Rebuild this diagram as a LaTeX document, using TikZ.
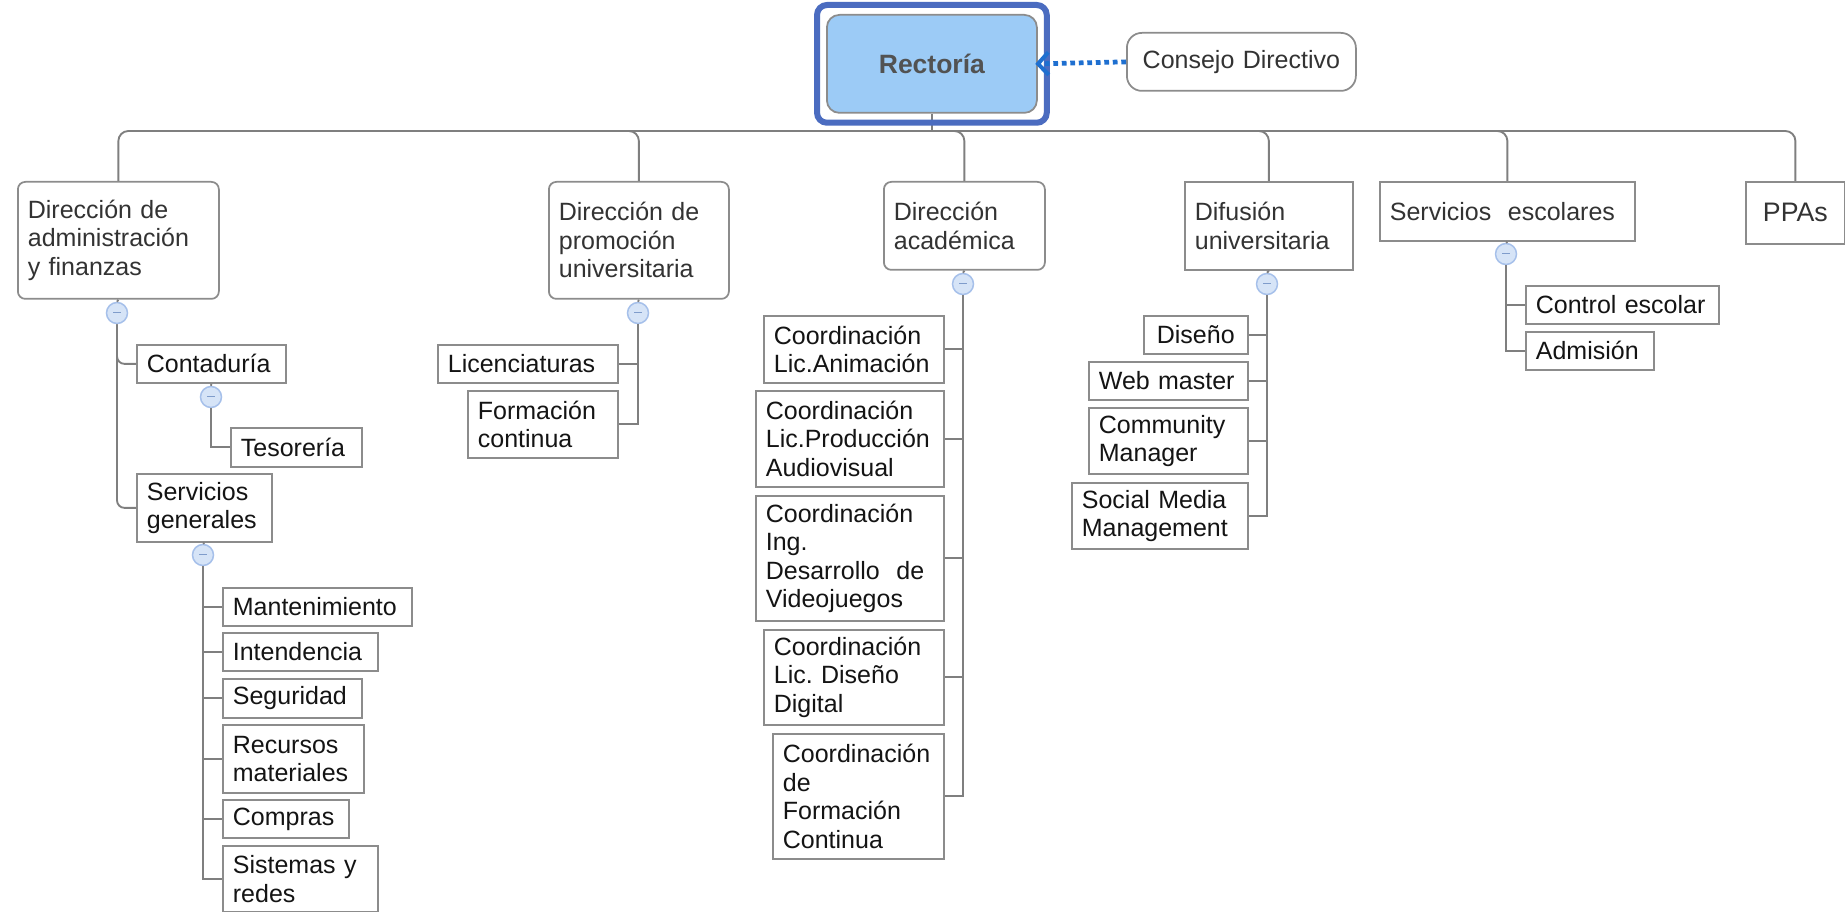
\documentclass[tikz,border=0pt]{standalone}
\usepackage{fontspec}
\setmainfont{Liberation Sans}
\usetikzlibrary{calc,arrows.meta}

\definecolor{boxgray}{HTML}{8C8C8C}
\definecolor{linegray}{HTML}{7F7F7F}
\definecolor{rectfill}{HTML}{9CCBF6}
\definecolor{frameblue}{HTML}{4B6CC0}
\definecolor{togfill}{HTML}{D6E4F7}
\definecolor{togline}{HTML}{A6C0EA}
\definecolor{togminus}{HTML}{7F9CCB}
\definecolor{headtext}{HTML}{333333}
\definecolor{bodytext}{HTML}{141414}
\definecolor{arrowblue}{HTML}{1E6FD0}

\newcommand\txtfont{\fontsize{10pt}{11.4pt}\selectfont\frenchspacing\hyphenpenalty=10000\exhyphenpenalty=10000}

\begin{document}
\begin{tikzpicture}[x=0.4pt,y=-0.4pt,
  bx/.style n args={2}{draw=boxgray, line width=0.7pt, fill=white,
    minimum width={#1*0.4pt}, minimum height={#2*0.4pt},
    text width={(#1-20)*0.4pt}, inner xsep=4pt, inner ysep=0pt,
    align=left, anchor=north west, font=\txtfont, text=bodytext},
  head/.style={text=headtext},
  soft/.style={rounded corners=3pt},
  conn/.style={draw=linegray, line width=0.75pt},
  tog/.style={circle, draw=togline, fill=togfill, line width=0.6pt,
    minimum size=8.4pt, inner sep=0pt},
  arr/.style={draw=arrowblue, line width=1.9pt, dash pattern=on 1.9pt off 1.5pt,
    -{Straight Barb[length=4.2pt,width=9pt,line width=1.6pt]}}
]
\useasboundingbox (0,0) rectangle (1845,912);

% ---- top level ----
\node[bx={210}{98}, fill=rectfill, rounded corners=5pt, align=center,
      font=\fontsize{10.6pt}{12pt}\selectfont\bfseries, text=headtext!85!white] (rect) at (826,14) {Rectoría};
\node[bx={229}{58}, rounded corners=6pt, align=center, head] (cons) at (1126,32) {Consejo Directivo};

\coordinate (bus) at (931,131);

% ---- directorates ----
\node[bx={201}{117}, soft, head] (adm) at (17,181) {Dirección de\\administración\\y finanzas};
\node[bx={180}{117}, soft, head] (pro) at (548,181) {Dirección de\\promoción\\universitaria};
\node[bx={161}{88}, soft, head] (aca) at (883,181) {Dirección\\académica};
\node[bx={168}{88}, head] (dif) at (1184,181) {Difusión\\universitaria};
\node[bx={255}{59}, head] (se) at (1379,181) {Servicios\ \ escolares};
\node[bx={99}{62}, align=center, head, font=\fontsize{10.7pt}{12pt}\selectfont] (ppa) at (1745,181) {PPAs};

% ---- administración y finanzas ----
\node[bx={149}{38}] (cont) at (136,344) {Contaduría};
\node[bx={131}{39}] (teso) at (230,427) {Tesorería};
\node[bx={135}{68}] (sg) at (136,473) {Servicios\\generales};
\node[bx={189}{38}] (mant) at (222,587) {Mantenimiento};
\node[bx={155}{38}] (inte) at (222,632) {Intendencia};
\node[bx={139}{39}] (segu) at (222,678) {Seguridad};
\node[bx={141}{68}] (recu) at (222,724) {Recursos\\materiales};
\node[bx={126}{38}] (comp) at (222,799) {Compras};
\node[bx={155}{66}] (sist) at (222,845) {Sistemas y\\redes};

% ---- promoción universitaria ----
\node[bx={180}{38}] (lic) at (437,344) {Licenciaturas};
\node[bx={150}{67}] (form) at (467,390) {Formación\\continua};

% ---- académica ----
\node[bx={180}{67}] (anim) at (763,315) {Coordinación\\Lic.Animación};
\node[bx={188}{96}] (prod) at (755,390) {Coordinación\\Lic.Producción\\Audiovisual};
\node[bx={188}{125}] (ing) at (755,495) {Coordinación\\Ing.\\Desarrollo\ \ de\\Videojuegos};
\node[bx={180}{95}] (dis) at (763,629) {Coordinación\\Lic. Diseño\\Digital};
\node[bx={171}{125}] (fc) at (772,733) {Coordinación\\de\\Formación\\Continua};

% ---- difusión ----
\node[bx={104}{38}] (dise) at (1143,315) {\hspace*{1.2pt}Diseño};
\node[bx={159}{38}] (web) at (1088,361) {Web master};
\node[bx={159}{66}] (comm) at (1088,407) {Community\\Manager};
\node[bx={176}{66}] (smm) at (1071,482) {Social Media\\Management};

% ---- servicios escolares ----
\node[bx={193}{38}] (ctrl) at (1525,285) {Control escolar};
\node[bx={128}{38}] (admi) at (1525,331) {Admisión};

% ---- collapse toggles ----
\foreach \n/\x/\y in {t1/117/313, t2/211/397, t3/203/555, tp/638/313,
                      ta/963/284, td/1267/284, ts/1506/254}
  \node[tog] (\n) at (\x,\y) {\textcolor{togminus}{\rule[0.15pt]{3.2pt}{0.45pt}}};

% ---- bus under Rectoría ----
\draw[conn] (rect.south) -- (rect.south |- bus);
\draw[conn, rounded corners=4pt] (adm.north) |- (bus) -| (ppa.north);
\foreach \n in {pro,aca,dif,se}
  \draw[conn, rounded corners=4pt] ($(bus -| \n.north)+(-14,0)$) -- (bus -| \n.north) -- (\n.north);

% frame around Rectoría
\draw[frameblue, line width=2.4pt, rounded corners=4pt]
  ([shift={(-9,-9)}]rect.north west) rectangle ([shift={(9,9)}]rect.south east);

% advisory link
\draw[arr] (cons.west) -- ([xshift=-1pt]rect.east);

% ---- parent to toggle stubs ----
\foreach \p/\t in {adm/t1, cont/t2, sg/t3, pro/tp, aca/ta, dif/td, se/ts}
  \draw[conn] (\p.south) -- (\t.north);

% ---- branches ----
\draw[conn, rounded corners=3pt] (t1.south) |- (cont.west);
\draw[conn, rounded corners=3pt] (t1.south) |- (sg.west);
\draw[conn] (t2.south) |- (teso.west);
\foreach \c in {mant,inte,segu,recu,comp,sist}
  \draw[conn] (t3.south) |- (\c.west);
\foreach \c in {lic,form}
  \draw[conn] (tp.south) |- (\c.east);
\foreach \c in {anim,prod,ing,dis,fc}
  \draw[conn] (ta.south) |- (\c.east);
\foreach \c in {dise,web,comm,smm}
  \draw[conn] (td.south) |- (\c.east);
\foreach \c in {ctrl,admi}
  \draw[conn] (ts.south) |- (\c.west);
\end{tikzpicture}
\end{document}
